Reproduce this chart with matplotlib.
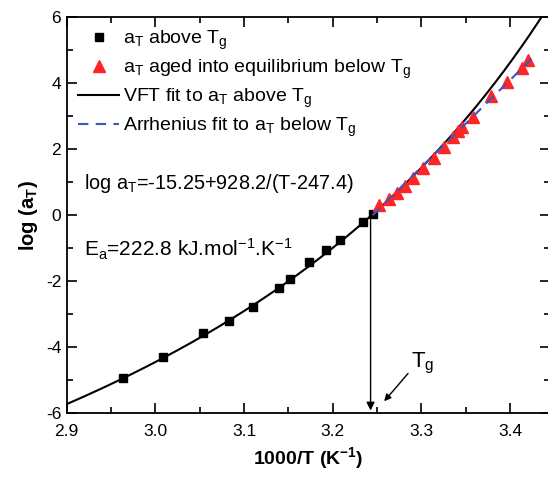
import numpy as np
import matplotlib
matplotlib.use("Agg")
import matplotlib.pyplot as plt

plt.rcParams['font.family'] = ['Liberation Sans', 'DejaVu Sans']
plt.rcParams['mathtext.fontset'] = 'custom'
plt.rcParams['mathtext.rm'] = 'Liberation Sans'
plt.rcParams['mathtext.it'] = 'Liberation Sans:italic'
plt.rcParams['mathtext.bf'] = 'Liberation Sans:bold'
plt.rcParams['axes.unicode_minus'] = False

# a_T above Tg (black squares)
above_x = [2.964, 3.009, 3.054, 3.083, 3.110, 3.139, 3.152, 3.173, 3.192, 3.208, 3.234, 3.245]
above_y = [-4.92, -4.30, -3.58, -3.21, -2.79, -2.20, -1.92, -1.43, -1.06, -0.76, -0.21, 0.04]

# a_T aged into equilibrium below Tg (red triangles)
below_x = [3.252, 3.263, 3.273, 3.282, 3.291, 3.302, 3.314, 3.325, 3.336, 3.341,
           3.346, 3.358, 3.379, 3.397, 3.414, 3.420]
below_y = [0.32, 0.50, 0.68, 0.89, 1.13, 1.44, 1.74, 2.07, 2.37, 2.55,
           2.67, 2.98, 3.61, 4.04, 4.46, 4.70]

# VFT fit parameters (from the equation on the chart)
VFT_A, VFT_B, VFT_T0 = -15.25, 928.2, 247.4

# Arrhenius fit line end points
arr_x = [3.245, 3.425]
arr_y = [0.0, 4.75]

TG_X = 3.2427

fig = plt.figure(figsize=(5.48, 4.8), dpi=100)
ax = fig.add_axes([0.1217, 0.139, 0.8819, 0.8256])

T = np.linspace(1000 / 2.9, 291.0, 400)
ax.plot(1000 / T, VFT_A + VFT_B / (T - VFT_T0), color='black', lw=1.5,
        label=r'VFT fit to a$_\mathregular{T}$ above T$_\mathregular{g}$', zorder=2)
ax.plot(arr_x, arr_y, color='#3a55c8', lw=1.5, dashes=(5, 3.5),
        label=r'Arrhenius fit to a$_\mathregular{T}$ below T$_\mathregular{g}$', zorder=4)
ax.plot(above_x, above_y, 's', color='black', ms=6, ls='none',
        label=r'a$_\mathregular{T}$ above T$_\mathregular{g}$', zorder=3)
ax.plot(below_x, below_y, '^', color='#ff2525', ms=8, ls='none',
        label=r'a$_\mathregular{T}$ aged into equilibrium below T$_\mathregular{g}$', zorder=3)

handles, labels = ax.get_legend_handles_labels()
order = [2, 3, 0, 1]
ax.legend([handles[i] for i in order], [labels[i] for i in order],
          loc='upper left', frameon=False, fontsize=14, handlelength=2.1,
          handletextpad=0.2, labelspacing=0.3, borderaxespad=0.2,
          bbox_to_anchor=(0.0, 1.0))

ax.text(2.92, 0.95, r'log a$_\mathregular{T}$=-15.25+928.2/(T-247.4)', fontsize=14.3,
        va='center')
ax.text(2.92, -1.05, r'E$_\mathregular{a}$=222.8 kJ.mol$^\mathregular{-1}$.K$^\mathregular{-1}$',
        fontsize=15, va='center')

ax.annotate('', xy=(TG_X, -6), xytext=(TG_X, -0.05),
            arrowprops=dict(arrowstyle='-|>', color='black', lw=1, mutation_scale=12))
ax.annotate('', xy=(3.256, -5.7), xytext=(3.287, -4.73),
            arrowprops=dict(arrowstyle='-|>', color='black', lw=1, mutation_scale=10))
ax.text(3.302, -4.5, r'T$_\mathregular{g}$', fontsize=16, ha='center', va='center')

ax.set_xlim(2.9, 3.445)
ax.set_ylim(-6, 6)
ax.set_xticks([2.9, 3.0, 3.1, 3.2, 3.3, 3.4])
ax.set_xticklabels(['2.9', '3.0', '3.1', '3.2', '3.3', '3.4'])
ax.set_xticks(np.arange(2.95, 3.45, 0.1), minor=True)
ax.set_yticks([-6, -4, -2, 0, 2, 4, 6])
ax.set_yticks([-5, -3, -1, 1, 3, 5], minor=True)
ax.tick_params(which='both', direction='in', top=True, right=True, width=1.2,
               labelsize=12.5)
ax.tick_params(which='major', length=7)
ax.tick_params(which='minor', length=4)
ax.tick_params(axis='x', pad=8)
ax.tick_params(axis='y', pad=4)
for s in ax.spines.values():
    s.set_linewidth(1.3)

ax.set_xlabel(r'1000/T (K$^\mathbf{-1}$)', fontsize=14, fontweight='bold', labelpad=4)
ax.set_ylabel(r'log (a$_\mathbf{T}$)', fontsize=14.5, fontweight='bold', labelpad=4)

fig.savefig('out.png', dpi=100)
